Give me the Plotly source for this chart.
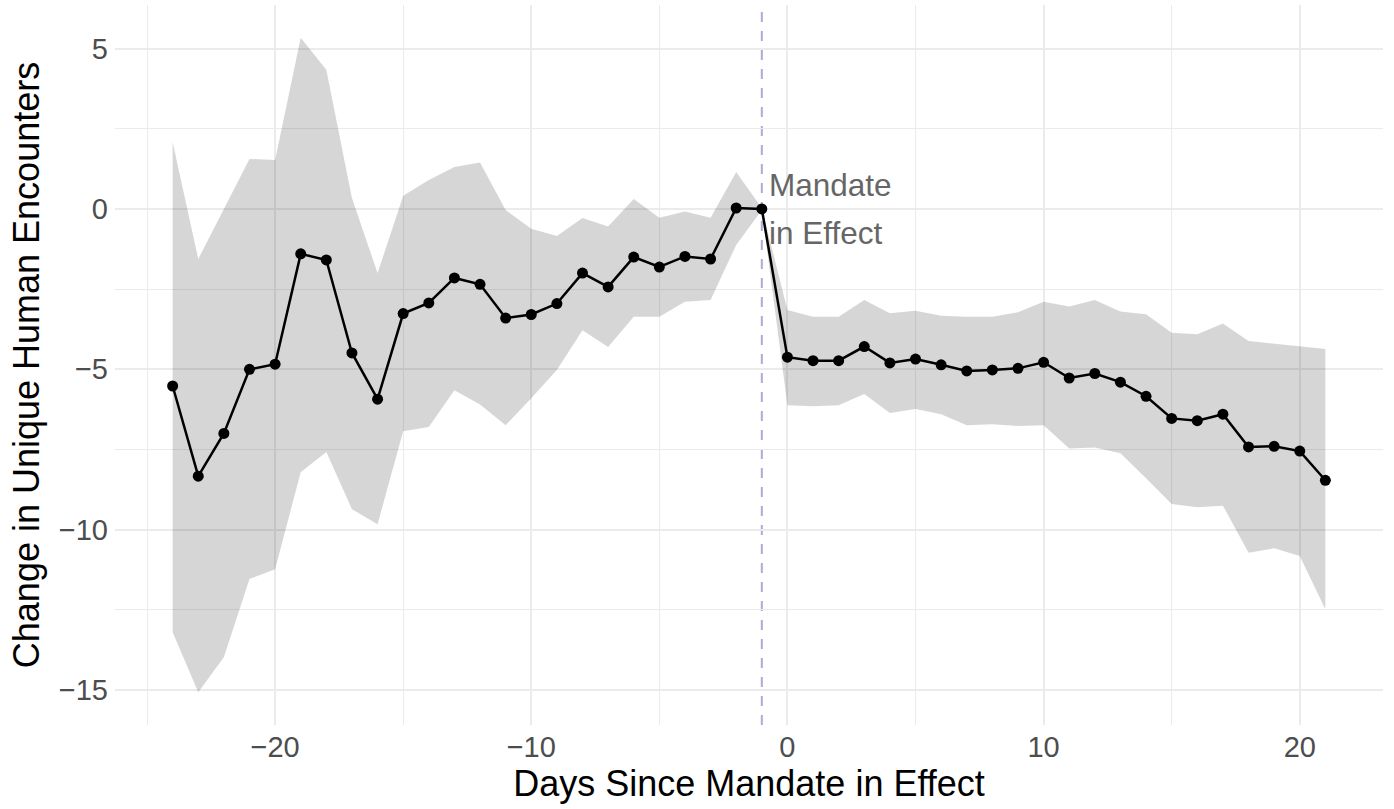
import plotly.graph_objects as go

# ---- data ----
days = list(range(-24, 22))
estimate = [-5.52, -8.33, -7.00, -5.00, -4.84, -1.40, -1.59, -4.49, -5.93, -3.26,
            -2.93, -2.15, -2.35, -3.40, -3.29, -2.95, -2.00, -2.43, -1.50, -1.81,
            -1.48, -1.56, 0.03, 0.00,
            -4.62, -4.73, -4.73, -4.29, -4.80, -4.68, -4.86, -5.05, -5.02, -4.97,
            -4.78, -5.27, -5.13, -5.40, -5.84, -6.53, -6.60, -6.40, -7.42, -7.40,
            -7.55, -8.46]
upper = [2.09, -1.56, 0.00, 1.56, 1.53, 5.34, 4.34, 0.34, -2.00, 0.41,
         0.90, 1.31, 1.45, -0.03, -0.62, -0.84, -0.28, -0.55, 0.31, -0.27,
         -0.08, -0.27, 1.15, 0.03,
         -3.15, -3.36, -3.36, -2.84, -3.25, -3.17, -3.33, -3.36, -3.36, -3.22,
         -2.89, -3.04, -2.84, -3.20, -3.28, -3.86, -3.91, -3.57, -4.12, -4.21,
         -4.30, -4.37]
lower = [-13.20, -15.07, -13.98, -11.54, -11.23, -8.21, -7.58, -9.36, -9.83, -6.93,
         -6.80, -5.65, -6.10, -6.74, -5.90, -5.02, -3.78, -4.30, -3.36, -3.36,
         -2.89, -2.84, -1.12, -0.03,
         -6.12, -6.15, -6.12, -5.77, -6.36, -6.24, -6.40, -6.74, -6.71, -6.77,
         -6.74, -7.47, -7.44, -7.62, -8.40, -9.20, -9.30, -9.25, -10.72, -10.58,
         -10.82, -12.48]

mandate_day = -1
x_ticks = [-20, -10, 0, 10, 20]
x_tick_labels = ["\u221220", "\u221210", "0", "10", "20"]
x_minor = [-25, -15, -5, 5, 15]
y_ticks = [-15, -10, -5, 0, 5]
y_tick_labels = ["\u221215", "\u221210", "\u22125", "0", "5"]
y_minor = [-12.5, -7.5, -2.5, 2.5]
annotation_lines = ["Mandate", "in Effect"]

FONT = "Liberation Sans, Arial, sans-serif"
GRID = "#EBEBEB"

fig = go.Figure()

# confidence ribbon
fig.add_trace(go.Scatter(x=days, y=upper, mode="lines", line=dict(width=0),
                         hoverinfo="skip", showlegend=False))
fig.add_trace(go.Scatter(x=days, y=lower, mode="lines", line=dict(width=0),
                         fill="tonexty", fillcolor="rgba(0,0,0,0.16)",
                         hoverinfo="skip", showlegend=False))
# estimates
fig.add_trace(go.Scatter(x=days, y=estimate, mode="lines+markers",
                         line=dict(color="black", width=2.5),
                         marker=dict(color="black", size=11),
                         showlegend=False))

# reference lines
fig.add_shape(type="line", xref="paper", yref="y", x0=0, x1=1, y0=0, y1=0,
              line=dict(color="#CFCFCF", width=2, dash="10px,9px"), layer="between")
fig.add_shape(type="line", xref="x", yref="paper", x0=mandate_day, x1=mandate_day,
              y0=0, y1=1,
              line=dict(color="#ABABDA", width=2, dash="10px,9px"), layer="between")

fig.add_annotation(x=mandate_day, y=0.74, text=annotation_lines[0], showarrow=False,
                   xanchor="left", yanchor="middle", xshift=5,
                   font=dict(family=FONT, size=31.5, color="#666666"))
fig.add_annotation(x=mandate_day, y=-0.74, text=annotation_lines[1], showarrow=False,
                   xanchor="left", yanchor="middle", xshift=5,
                   font=dict(family=FONT, size=31.5, color="#666666"))

fig.update_layout(
    width=1394, height=809,
    margin=dict(l=115, r=11, t=5, b=84),
    paper_bgcolor="white", plot_bgcolor="white",
    font=dict(family=FONT),
    xaxis=dict(
        range=[-26.25, 23.25], tickmode="array", tickvals=x_ticks, ticktext=x_tick_labels,
        showgrid=True, gridcolor=GRID, gridwidth=2, zeroline=False, showline=False,
        ticks="", tickfont=dict(size=29, color="#4D4D4D"), ticklabelstandoff=2,
        minor=dict(tickvals=x_minor, showgrid=True, gridcolor=GRID, gridwidth=1),
        title=dict(text="Days Since Mandate in Effect",
                   font=dict(size=36, color="black"), standoff=7),
    ),
    yaxis=dict(
        range=[-16.09, 6.36], tickmode="array", tickvals=y_ticks, ticktext=y_tick_labels,
        showgrid=True, gridcolor=GRID, gridwidth=2, zeroline=False, showline=False,
        ticks="", tickfont=dict(size=29, color="#4D4D4D"), ticklabelstandoff=6,
        minor=dict(tickvals=y_minor, showgrid=True, gridcolor=GRID, gridwidth=1),
        title=dict(text="Change in Unique Human Encounters",
                   font=dict(size=36, color="black"), standoff=8),
    ),
)

fig.write_html("out.html")
